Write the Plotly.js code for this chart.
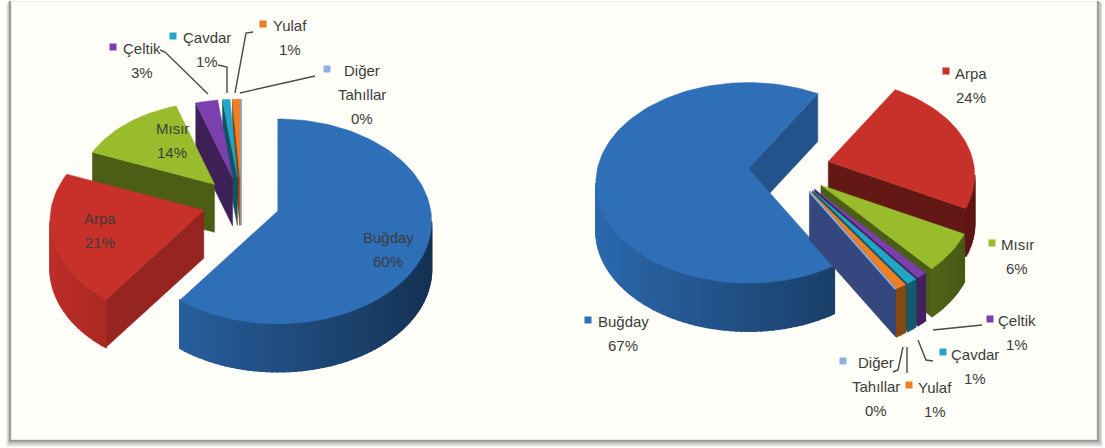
<!DOCTYPE html>
<html>
<head>
<meta charset="utf-8">
<script src="https://cdn.plot.ly/plotly-3.0.1.min.js"></script>
<style>html,body{margin:0;padding:0;background:#fff}#chart{width:1105px;height:448px}</style>
</head>
<body>
<div id="chart"></div>
<script>
// Grain production shares by crop, two exploded pies
const categories = ['Buğday', 'Arpa', 'Mısır', 'Çeltik', 'Çavdar', 'Yulaf', 'Diğer Tahıllar'];
const valuesLeft = [60, 21, 14, 3, 1, 1, 0];
const valuesRight = [67, 24, 6, 1, 1, 1, 0];
const colors = ['#2E6FB8', '#C8302A', '#98BC2C', '#7B3FAE', '#22A5C6', '#EE7F22', '#8DB1E2'];
const wallOverride = {6: '#35477F'};

// Projection settings for each pie: centre, radii, perspective, explosion, extrusion, first-slice angle
const pieLeft = {cx: 241, cy: 203, rx: 153, ry: 101.4, p: 0.102, pull: 0.253, depth: 48, start: 0};
const pieRight = {cx: 789, cy: 168.7, rx: 151, ry: 98.4, p: 0.144, pull: 0.27, depth: 48, start: 150};
const farShrink = 0.15;

// Label anchors per category: text position and optional colour key
const labelsLeft = [
  {i: 0, tx: 388, ty: 237},
  {i: 1, tx: 100, ty: 218},
  {i: 2, tx: 172, ty: 128},
  {i: 3, tx: 142, ty: 48, kx: 113, ky: 47},
  {i: 4, tx: 207, ty: 37, kx: 173, ky: 36},
  {i: 5, tx: 290, ty: 25, kx: 263, ky: 24},
  {i: 6, tx: 362, ty: 70, kx: 327, ky: 69}
];
const labelsRight = [
  {i: 0, tx: 623, ty: 321, kx: 588, ky: 320},
  {i: 1, tx: 971, ty: 73, kx: 946, ky: 71},
  {i: 2, tx: 1017, ty: 244, kx: 992, ky: 243},
  {i: 3, tx: 1017, ty: 320, kx: 990, ky: 319},
  {i: 4, tx: 975, ty: 354, kx: 943, ky: 352},
  {i: 5, tx: 935, ty: 387, kx: 909, ky: 385},
  {i: 6, tx: 876, ty: 362, kx: 843, ky: 361}
];

// Leader lines from outside labels to their slices
const leaders = [
  [[160, 165, 208], [50, 52, 94]],
  [[218, 227, 227], [65, 67, 93]],
  [[253, 246, 235], [32, 33, 93]],
  [[315, 240], [76, 93]],
  [[982, 933], [325, 330]],
  [[933, 926, 918], [361, 360, 340]],
  [[907, 907], [373, 347]],
  [[893, 898, 903], [372, 370, 347]]
];

const rad = d => d * Math.PI / 180;

function shade(hex, f) {
  const n = parseInt(hex.slice(1), 16);
  const c = [n >> 16, (n >> 8) & 255, n & 255].map(v => Math.round(v * f));
  return `rgb(${c[0]},${c[1]},${c[2]})`;
}

function polygon(xs, ys, color, lineWidth) {
  return {
    type: 'scatter', mode: 'lines', x: xs, y: ys, fill: 'toself', fillcolor: color,
    line: {color: color, width: lineWidth}, hoverinfo: 'skip', showlegend: false
  };
}

// Build the extruded slices of one pie, painting far slices before near ones
function pieTraces(values, g) {
  const total = values.reduce((a, b) => a + b, 0);
  let angle = g.start;
  const slices = values.map((v, i) => {
    const a0 = angle, a1 = angle + v / total * 360;
    angle = a1;
    return {i, v, a0, a1, mid: (a0 + a1) / 2};
  });
  slices.sort((a, b) => Math.cos(rad(b.mid)) - Math.cos(rad(a.mid)));

  const traces = [];
  slices.forEach(s => {
    const ax = g.cx + g.rx * g.pull * Math.sin(rad(s.mid));
    const ay = g.cy - g.ry * g.pull * Math.cos(rad(s.mid));
    const scale = 1 - farShrink * Math.max(0, Math.cos(rad(s.mid)));
    const rim = t => {
      const c = scale / (1 + g.p * Math.cos(rad(t)));
      return [ax + g.rx * Math.sin(rad(t)) * c, ay - g.ry * Math.cos(rad(t)) * c];
    };
    const base = colors[s.i];
    const steps = Math.max(1, Math.ceil((s.a1 - s.a0) / 2));
    const arc = [];
    for (let k = 0; k <= steps; k++) arc.push(s.a0 + (s.a1 - s.a0) * k / steps);
    const pts = arc.map(rim);

    // Radial walls, visible only when the edge runs leftwards on screen
    const wall = (p, q) => {
      if (q[0] >= p[0]) return;
      const f = q[1] > p[1] ? 0.75 : 0.5;
      const color = wallOverride[s.i] || shade(base, f);
      traces.push(polygon(
        [p[0], q[0], q[0], p[0], p[0]],
        [p[1], q[1], q[1] + g.depth, p[1] + g.depth, p[1]],
        color, 0.5));
    };
    wall([ax, ay], pts[0]);
    wall(pts[pts.length - 1], [ax, ay]);

    // Outer rim, shaded segment by segment from the light left to the dark right
    for (let k = 0; k < steps; k++) {
      const p = pts[k], q = pts[k + 1];
      if (q[0] >= p[0]) continue;
      const f = 0.7 - 0.26 * Math.sin(rad((arc[k] + arc[k + 1]) / 2));
      const color = shade(base, f);
      traces.push(polygon(
        [p[0], q[0], q[0], p[0], p[0]],
        [p[1], q[1], q[1] + g.depth, p[1] + g.depth, p[1]],
        color, 1.5));
    }

    // Top face; an empty slice stays visible as a thin line
    const xs = [ax, ...pts.map(p => p[0]), ax];
    const ys = [ay, ...pts.map(p => p[1]), ay];
    traces.push(polygon(xs, ys, base, s.v === 0 ? 1.8 : 0.5));
  });
  return traces;
}

function labelAnnotations(values, items) {
  const out = [];
  items.forEach(l => {
    const name = categories[l.i];
    const lines = name.includes(' ') ? name.split(' ') : [name];
    lines.push(values[l.i] + '%');
    lines.forEach((text, n) => out.push({
      x: l.tx, y: l.ty + n * 24, xref: 'x', yref: 'y', text: text, showarrow: false,
      xanchor: 'center', yanchor: 'middle',
      font: {family: '"Liberation Sans",Arial,sans-serif', size: 15, color: '#3c3c38'}
    }));
  });
  return out;
}

function keyTrace(items) {
  const keyed = items.filter(l => l.kx !== undefined);
  return {
    type: 'scatter', mode: 'markers', x: keyed.map(l => l.kx), y: keyed.map(l => l.ky),
    marker: {symbol: 'square', size: 7, color: keyed.map(l => colors[l.i])},
    hoverinfo: 'skip', showlegend: false
  };
}

const leaderTraces = leaders.map(l => ({
  type: 'scatter', mode: 'lines', x: l[0], y: l[1],
  line: {color: '#4a4a3e', width: 1.4}, hoverinfo: 'skip', showlegend: false
}));

const data = [
  ...pieTraces(valuesLeft, pieLeft),
  ...pieTraces(valuesRight, pieRight),
  ...leaderTraces,
  keyTrace(labelsLeft),
  keyTrace(labelsRight)
];

// Cream panel with a soft grey drop edge
const rect = (x0, y0, x1, y1, color) => ({
  type: 'rect', xref: 'x', yref: 'y', x0, y0, x1, y1, layer: 'below',
  fillcolor: color, line: {width: 0}
});
const shapes = [
  rect(6, 4, 1103, 447, '#f1f1ef'),
  rect(7, 3, 1102, 446, '#dfdfdc'),
  rect(8, 2, 1101, 444, '#c4c4c0'),
  rect(9, 1, 1099, 442, '#9d9d98'),
  rect(11, 1, 1097, 440, '#ecece6'),
  rect(12, 2, 1096, 439, '#FFFEF8')
];

const layout = {
  width: 1105, height: 448,
  margin: {l: 0, r: 0, t: 0, b: 0},
  paper_bgcolor: '#ffffff', plot_bgcolor: 'rgba(0,0,0,0)',
  xaxis: {range: [0, 1105], visible: false, fixedrange: true},
  yaxis: {range: [448, 0], visible: false, fixedrange: true},
  shapes: shapes,
  annotations: [...labelAnnotations(valuesLeft, labelsLeft), ...labelAnnotations(valuesRight, labelsRight)],
  showlegend: false
};

Plotly.newPlot('chart', data, layout, {displayModeBar: false, staticPlot: true});
</script>
</body>
</html>
